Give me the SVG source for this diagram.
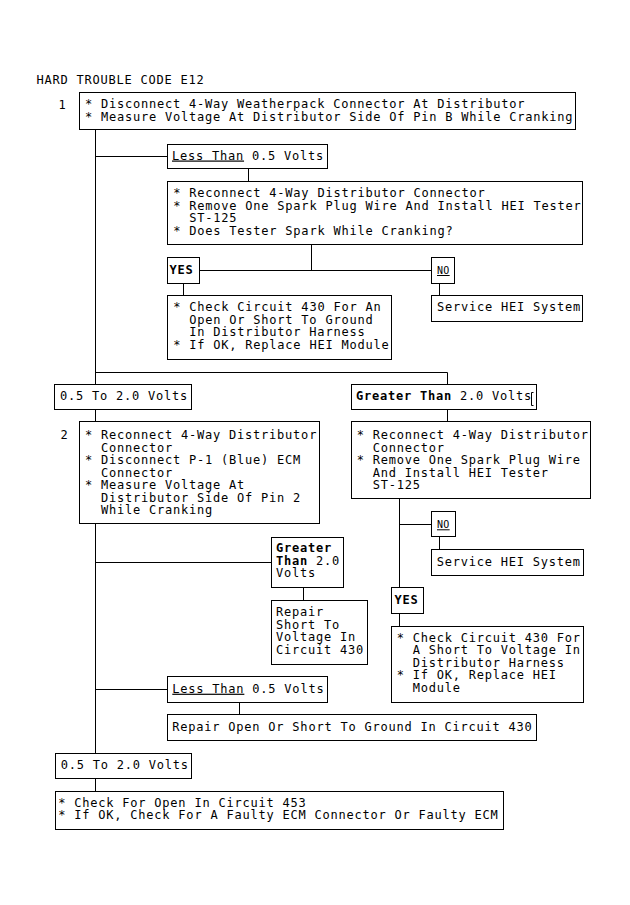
<svg xmlns="http://www.w3.org/2000/svg" width="630" height="905" viewBox="0 0 630 905">
<style>
  .bx { fill: #fff; stroke: #000; stroke-width: 1; }
  .cn { fill: none; stroke: #000; stroke-width: 1; }
  text { font-family: "DejaVu Sans Mono", "Liberation Mono", monospace; font-size: 12px; letter-spacing: 0.78px; fill: #000; }
  .b { font-weight: bold; }
  .u { text-decoration: underline; }
  .sm { font-size: 10px; letter-spacing: 0.3px; }
</style>
<rect width="630" height="905" fill="#fff"/>
<g id="connectors">
  <path class="cn" d="M95.5,129.5 V384.5 M95.5,409.5 V421.5 M95.5,523.5 V753.5 M95.5,778.5 V791.5"/>
  <path class="cn" d="M95.5,156.5 H167.5 M248.5,168.5 V181.5"/>
  <path class="cn" d="M311.5,244.5 V270.5 M199.5,270.5 H431.5 M183.5,283.5 V295.5 M439.5,283.5 V295.5"/>
  <path class="cn" d="M95.5,372.5 H447.5 V384.5 M447.5,409.5 V421.5"/>
  <path class="cn" d="M399.5,498.5 V587.5 M399.5,524.5 H431.5 M439.5,536.5 V549.5 M399.5,613.5 V626.5"/>
  <path class="cn" d="M95.5,562.5 H271.5 M303.5,587.5 V600.5"/>
  <path class="cn" d="M95.5,689.5 H167.5 M239.5,702.5 V714.5"/>
</g>
<g id="title"><text x="36.5" y="84">HARD TROUBLE CODE E12</text></g>
<g id="step1">
  <text x="58.5" y="108.5">1</text>
  <rect class="bx" x="79.5" y="92.5" width="496" height="37"/>
  <text x="85" y="108.3">* Disconnect 4-Way Weatherpack Connector At Distributor</text>
  <text x="85" y="120.8">* Measure Voltage At Distributor Side Of Pin B While Cranking</text>
</g>
<g id="less1">
  <rect class="bx" x="167.5" y="144.5" width="160" height="24"/>
  <text x="172" y="159.5"><tspan class="u">Less Than</tspan> 0.5 Volts</text>
</g>
<g id="reconnect1">
  <rect class="bx" x="167.5" y="181.5" width="415" height="63"/>
  <text x="173.3" y="197.3">* Reconnect 4-Way Distributor Connector</text>
  <text x="173.3" y="209.8">* Remove One Spark Plug Wire And Install HEI Tester</text>
  <text x="189.3" y="222.3">ST-125</text>
  <text x="173.3" y="234.8">* Does Tester Spark While Cranking?</text>
</g>
<g id="yes1">
  <rect class="bx" x="167.5" y="257.5" width="32" height="26"/>
  <text class="b" x="169.5" y="274">YES</text>
</g>
<g id="no1">
  <rect class="bx" x="431.5" y="257.5" width="23" height="26"/>
  <text class="sm u" x="437" y="274">NO</text>
</g>
<g id="check1">
  <rect class="bx" x="167.5" y="295.5" width="224" height="64"/>
  <text x="173.3" y="311">* Check Circuit 430 For An</text>
  <text x="189.3" y="323.5">Open Or Short To Ground</text>
  <text x="189.3" y="336">In Distributor Harness</text>
  <text x="173.3" y="348.5">* If OK, Replace HEI Module</text>
</g>
<g id="service1">
  <rect class="bx" x="431.5" y="295.5" width="151" height="26"/>
  <text x="437" y="311">Service HEI System</text>
</g>
<g id="range1">
  <rect class="bx" x="54.5" y="384.5" width="137" height="25"/>
  <text x="60" y="400">0.5 To 2.0 Volts</text>
</g>
<g id="greater1">
  <rect class="bx" x="351.5" y="384.5" width="185" height="25"/>
  <text x="356" y="399.5"><tspan class="b">Greater Than</tspan> 2.0 Volts</text>
  <path class="cn" d="M533.5,392.5 H531.5 V405.5 H533.5"/>
</g>
<g id="step2">
  <text x="60.5" y="439.3">2</text>
  <rect class="bx" x="79.5" y="421.5" width="240" height="102"/>
  <text x="85" y="439.3">* Reconnect 4-Way Distributor</text>
  <text x="101" y="451.8">Connector</text>
  <text x="85" y="464.3">* Disconnect P-1 (Blue) ECM</text>
  <text x="101" y="476.8">Connector</text>
  <text x="85" y="489.3">* Measure Voltage At</text>
  <text x="101" y="501.8">Distributor Side Of Pin 2</text>
  <text x="101" y="514.3">While Cranking</text>
</g>
<g id="reconnect2">
  <rect class="bx" x="351.5" y="421.5" width="239" height="77"/>
  <text x="356.7" y="439.3">* Reconnect 4-Way Distributor</text>
  <text x="372.7" y="451.8">Connector</text>
  <text x="356.7" y="464.3">* Remove One Spark Plug Wire</text>
  <text x="372.7" y="476.8">And Install HEI Tester</text>
  <text x="372.7" y="489.3">ST-125</text>
</g>
<g id="no2">
  <rect class="bx" x="431.5" y="511.5" width="24" height="25"/>
  <text class="sm u" x="437" y="528.3">NO</text>
</g>
<g id="service2">
  <rect class="bx" x="431.5" y="549.5" width="152" height="26"/>
  <text x="436.7" y="565.7">Service HEI System</text>
</g>
<g id="yes2">
  <rect class="bx" x="391.5" y="587.5" width="32" height="26"/>
  <text class="b" x="394.5" y="603.5">YES</text>
</g>
<g id="check2">
  <rect class="bx" x="391.5" y="626.5" width="192" height="76"/>
  <text x="396.7" y="641.7">* Check Circuit 430 For</text>
  <text x="412.7" y="654.2">A Short To Voltage In</text>
  <text x="412.7" y="666.7">Distributor Harness</text>
  <text x="396.7" y="679.2">* If OK, Replace HEI</text>
  <text x="412.7" y="691.7">Module</text>
</g>
<g id="greater2">
  <rect class="bx" x="271.5" y="537.5" width="72" height="50"/>
  <text class="b" x="276" y="552.3">Greater</text>
  <text x="276" y="564.8"><tspan class="b">Than</tspan> 2.0</text>
  <text x="276" y="577.3">Volts</text>
</g>
<g id="repairshort">
  <rect class="bx" x="271.5" y="600.5" width="96" height="64"/>
  <text x="276" y="616">Repair</text>
  <text x="276" y="628.5">Short To</text>
  <text x="276" y="641">Voltage In</text>
  <text x="276" y="653.5">Circuit 430</text>
</g>
<g id="less2">
  <rect class="bx" x="167.5" y="676.5" width="160" height="26"/>
  <text x="172.3" y="692.7"><tspan class="u">Less Than</tspan> 0.5 Volts</text>
</g>
<g id="repairopen">
  <rect class="bx" x="167.5" y="714.5" width="369" height="26"/>
  <text x="172.3" y="730.7">Repair Open Or Short To Ground In Circuit 430</text>
</g>
<g id="range2">
  <rect class="bx" x="55.5" y="753.5" width="136" height="25"/>
  <text x="60.7" y="769">0.5 To 2.0 Volts</text>
</g>
<g id="final">
  <rect class="bx" x="55.5" y="791.5" width="448" height="38"/>
  <text x="58.3" y="806.7">* Check For Open In Circuit 453</text>
  <text x="58.3" y="819.2">* If OK, Check For A Faulty ECM Connector Or Faulty ECM</text>
</g>
</svg>
